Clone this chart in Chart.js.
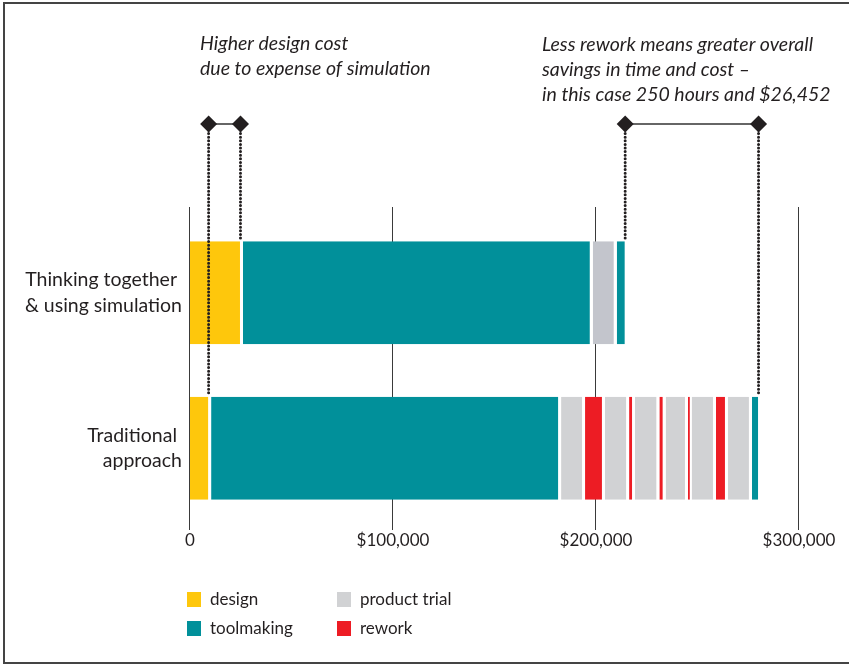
<!DOCTYPE html>
<html>
<head>
<meta charset="utf-8">
<script src="https://cdn.jsdelivr.net/npm/chart.js@4/dist/chart.umd.min.js"></script>
<style>
  html, body { margin: 0; padding: 0; background: #fff; }
  #wrap { position: relative; width: 849px; height: 666px; overflow: hidden; }
  #frame { position: absolute; left: 3px; top: 2px; width: 900px; height: 662px;
           box-sizing: border-box; border: 2px solid #444; }
  #chart { position: absolute; left: 0; top: 0; }
</style>
</head>
<body>
<div id="wrap">
  <div id="frame"></div>
  <canvas id="chart" width="849" height="666"></canvas>
</div>
<script>
"use strict";

const categories = [["Thinking together ", "& using simulation"], ["Traditional ", "approach"]];
const xTicks = [0, 100000, 200000, 300000];

// cost of each stage, left to right, in dollars
const simulationCosts = [26100, 172300, 11800, 5400];
const simulationStages = ["design", "toolmaking", "product trial", "toolmaking"];
const traditionalCosts = [10400, 172400, 11800, 9800, 11900, 2900, 12000, 3100, 11000, 1800, 12000, 5900, 11800, 4500];
const traditionalStages = ["design", "toolmaking", "product trial", "rework", "product trial", "rework",
  "product trial", "rework", "product trial", "rework", "product trial", "rework", "product trial", "toolmaking"];

const legendStages = ["design", "toolmaking", "product trial", "rework"];

const leftNote = ["Higher design cost", "due to expense of simulation"];
const rightNote = ["Less rework means greater overall", "savings in time and cost \u2013", "in this case 250 hours and $26,452"];

const stageColors = {
  design: "#fec70c",
  toolmaking: "#01909a",
  "product trial": "#d1d2d4",
  rework: "#ed1c24"
};
const ink = "#231f20";
const fontFamily = "Lato, 'Noto Sans', sans-serif";

const cumulative = (arr) => {
  let sum = 0;
  return arr.map((v) => (sum += v));
};

const segmentStyle = {
  borderColor: "#ffffff",
  borderWidth: { left: 0, right: 3, top: 0, bottom: 0 },
  borderSkipped: false,
  inflateAmount: 0,
  barPercentage: 1,
  categoryPercentage: 0.662
};

const datasets = [];
simulationCosts.forEach((cost, i) => {
  const stage = simulationStages[i];
  datasets.push({
    label: stage,
    data: [cost, null],
    backgroundColor: stage === "product trial" ? "#c3c5cc" : stageColors[stage],
    ...segmentStyle
  });
});
traditionalCosts.forEach((cost, i) => {
  const stage = traditionalStages[i];
  datasets.push({
    label: stage,
    data: [null, cost],
    backgroundColor: stageColors[stage],
    ...segmentStyle
  });
});

const diamond = (ctx, x, y, r) => {
  ctx.beginPath();
  ctx.moveTo(x, y - r);
  ctx.lineTo(x + r, y);
  ctx.lineTo(x, y + r);
  ctx.lineTo(x - r, y);
  ctx.closePath();
  ctx.fill();
};

const guidesPlugin = {
  id: "guides",
  beforeDatasetsDraw(chart) {
    const { ctx, chartArea, scales } = chart;
    ctx.save();
    ctx.strokeStyle = "#3a3a3a";
    ctx.lineWidth = 1;
    xTicks.forEach((v) => {
      const px = Math.round(scales.x.getPixelForValue(v)) - 0.5;
      ctx.beginPath();
      ctx.moveTo(px, chartArea.top - 8);
      ctx.lineTo(px, chartArea.bottom + 4);
      ctx.stroke();
    });
    ctx.restore();
  },
  afterDatasetsDraw(chart) {
    const { ctx, chartArea, scales } = chart;
    const simEnds = cumulative(simulationCosts);
    const tradEnds = cumulative(traditionalCosts);
    const simBar = chart.getDatasetMeta(0).data[0];
    const tradBar = chart.getDatasetMeta(simulationCosts.length).data[1];
    const simTop = simBar.y - simBar.height / 2;
    const tradTop = tradBar.y - tradBar.height / 2;
    const markY = chartArea.top - 91;
    const px = (v) => scales.x.getPixelForValue(v) - 2.5;

    const pairs = [
      [[px(tradEnds[0]), tradTop], [px(simEnds[0]), simTop]],
      [[px(simEnds[simEnds.length - 1]), simTop], [px(tradEnds[tradEnds.length - 1]), tradTop]]
    ];

    ctx.save();
    // dotted drop lines
    ctx.strokeStyle = ink;
    ctx.lineWidth = 3;
    ctx.lineCap = "round";
    ctx.setLineDash([0, 3.6]);
    pairs.forEach((pair) => pair.forEach(([x, bottom]) => {
      ctx.beginPath();
      ctx.moveTo(x, markY + 6);
      ctx.lineTo(x, bottom - 2);
      ctx.stroke();
    }));
    // connectors and diamonds
    ctx.setLineDash([]);
    ctx.lineCap = "butt";
    ctx.lineWidth = 1.6;
    ctx.strokeStyle = "#333";
    ctx.fillStyle = ink;
    pairs.forEach(([a, b]) => {
      ctx.beginPath();
      ctx.moveTo(a[0], markY);
      ctx.lineTo(b[0], markY);
      ctx.stroke();
      diamond(ctx, a[0], markY, 8.5);
      diamond(ctx, b[0], markY, 8.5);
    });

    // notes
    ctx.font = "italic 19.5px " + fontFamily;
    ctx.textBaseline = "alphabetic";
    ctx.textAlign = "left";
    leftNote.forEach((line, i) => ctx.fillText(line, 200, 50 + i * 25));
    rightNote.forEach((line, i) => ctx.fillText(line, 542, 51 + i * 25));

    // legend
    ctx.font = "17px " + fontFamily;
    legendStages.forEach((stage, i) => {
      const col = Math.floor(i / 2);
      const row = i % 2;
      const lx = 187 + col * 150;
      const ly = 592 + row * 29;
      ctx.fillStyle = stageColors[stage];
      ctx.fillRect(lx, ly, 14, 15);
      ctx.fillStyle = ink;
      ctx.fillText(stage, lx + 23, ly + 13);
    });
    ctx.restore();
  }
};

Chart.defaults.color = ink;
Chart.defaults.font.family = fontFamily;

const costChart = new Chart(document.getElementById("chart").getContext("2d"), {
  type: "bar",
  data: { labels: categories, datasets: datasets },
  options: {
    indexAxis: "y",
    responsive: false,
    animation: false,
    devicePixelRatio: 1,
    layout: { padding: { left: 0, right: 50, top: 215, bottom: 100 } },
    plugins: {
      legend: { display: false },
      tooltip: { enabled: false }
    },
    scales: {
      x: {
        stacked: true,
        min: 0,
        max: 300000,
        afterBuildTicks: (scale) => {
          scale.ticks = xTicks.map((v) => ({ value: v }));
        },
        afterFit: (scale) => { scale.height = 40; },
        grid: { display: false, drawTicks: false },
        border: { display: false },
        ticks: {
          padding: 4,
          maxRotation: 0,
          font: { size: 17 },
          callback: (v) => (v === 0 ? "0" : "$" + v.toLocaleString("en-US"))
        }
      },
      y: {
        stacked: true,
        afterFit: (scale) => { scale.width = 190; },
        grid: { display: false, drawTicks: false },
        border: { display: false },
        ticks: {
          padding: 8,
          font: { size: 19.5, lineHeight: 1.3 }
        }
      }
    }
  },
  plugins: [guidesPlugin]
});
</script>
</body>
</html>
